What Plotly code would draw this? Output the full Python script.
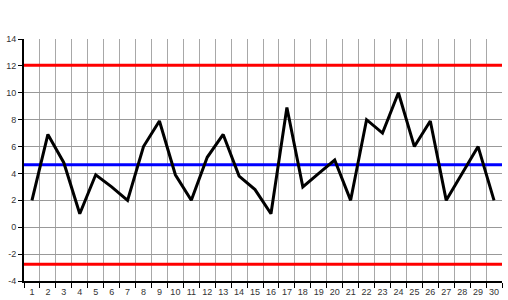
import plotly.graph_objects as go

categories = list(range(1, 31))
values = [2, 6.9, 4.8, 1, 3.9, 3, 2, 6, 7.9, 3.9,
          2, 5.2, 6.9, 3.8, 2.8, 1, 8.9, 3, 4, 5,
          2, 8, 7, 10, 6, 7.9, 2, 4, 6, 2]
center_line = 4.65
upper_limit = 12.05
lower_limit = -2.75
x_tick_labels = [str(c) for c in categories]
y_ticks = list(range(-4, 15, 2))
y_tick_labels = [str(v) for v in y_ticks]

fig = go.Figure()
span = [0.5, 30.5]
fig.add_trace(go.Scatter(x=span, y=[upper_limit] * 2, mode="lines",
                         line=dict(color="#ff0000", width=3), hoverinfo="skip"))
fig.add_trace(go.Scatter(x=span, y=[lower_limit] * 2, mode="lines",
                         line=dict(color="#ff0000", width=3), hoverinfo="skip"))
fig.add_trace(go.Scatter(x=span, y=[center_line] * 2, mode="lines",
                         line=dict(color="#0000ff", width=3), hoverinfo="skip"))
fig.add_trace(go.Scatter(x=categories, y=values, mode="lines",
                         line=dict(color="#000000", width=3)))

font = dict(family="Liberation Sans, Arial", size=9, color="#333333")
fig.update_layout(
    width=508, height=300,
    margin=dict(l=24, r=6, t=39, b=19),
    paper_bgcolor="white", plot_bgcolor="white",
    showlegend=False,
    xaxis=dict(
        range=span, tickmode="array", tickvals=categories, ticktext=x_tick_labels,
        ticks="", showgrid=False, zeroline=False, automargin=False,
        showline=True, linecolor="black", linewidth=2,
        tickfont=font, ticklabelstandoff=1,
        minor=dict(tick0=0.5, dtick=1, ticks="outside", ticklen=5,
                   tickcolor="black", tickwidth=1,
                   showgrid=True, gridcolor="#a8a8a8", gridwidth=1),
    ),
    yaxis=dict(
        range=[-4, 14], tickmode="array", tickvals=y_ticks, ticktext=y_tick_labels,
        ticks="outside", ticklen=4, tickcolor="black", tickwidth=1,
        showgrid=True, gridcolor="#999999", gridwidth=1, zeroline=False,
        showline=True, linecolor="black", linewidth=2, automargin=False,
        tickfont=font,
    ),
)
fig.write_html("out.html")
